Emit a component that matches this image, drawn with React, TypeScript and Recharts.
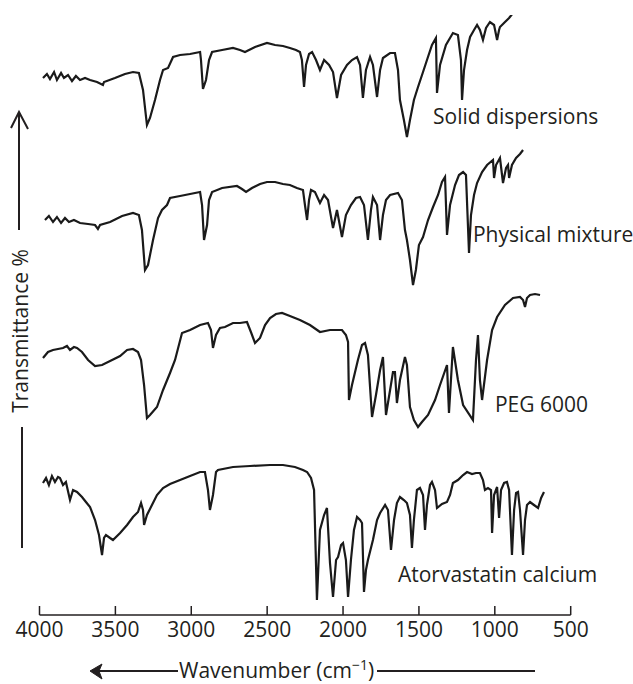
import React from "react";
import { LineChart, Line, XAxis, YAxis, ReferenceDot } from "recharts";

// wavenumber (cm-1) and transmittance (offset, arbitrary units)
const solidWn = [3977, 3951, 3931, 3904, 3885, 3858, 3839, 3812, 3786, 3760, 3733, 3700, 3667, 3621, 3582, 3575, 3503, 3437, 3384, 3345, 3318, 3292, 3272, 3239, 3206, 3186, 3153, 3120, 3074, 3008, 2942, 2936, 2923, 2903, 2883, 2863, 2797, 2725, 2679, 2646, 2580, 2501, 2448, 2396, 2350, 2310, 2284, 2271, 2257, 2244, 2224, 2204, 2178, 2152, 2125, 2092, 2066, 2040, 2013, 1974, 1941, 1908, 1888, 1869, 1849, 1822, 1803, 1776, 1756, 1737, 1690, 1658, 1638, 1625, 1599, 1579, 1559, 1533, 1506, 1473, 1447, 1414, 1388, 1381, 1361, 1322, 1276, 1243, 1223, 1216, 1203, 1183, 1163, 1137, 1117, 1098, 1078, 1058, 1032, 1005, 985, 972, 966, 933, 906, 880];
const solidT = [537, 541, 536, 543, 535, 542, 537, 540, 534, 539, 535, 537, 535, 533, 530, 533, 537, 541, 543, 542, 525, 490, 497, 515, 535, 545, 547, 558, 560, 561, 563, 555, 526, 535, 555, 563, 565, 567, 565, 563, 568, 572, 570, 569, 567, 565, 563, 555, 528, 550, 561, 563, 555, 545, 555, 550, 543, 517, 540, 550, 555, 558, 550, 517, 545, 558, 550, 518, 545, 557, 562, 562, 545, 515, 495, 478, 495, 515, 528, 543, 555, 570, 577, 522, 550, 570, 582, 580, 555, 515, 545, 565, 578, 585, 590, 585, 575, 587, 593, 590, 575, 585, 588, 593, 597, 602];

const mixtureWn = [3964, 3938, 3911, 3885, 3858, 3832, 3806, 3773, 3733, 3680, 3634, 3615, 3601, 3535, 3456, 3384, 3345, 3325, 3305, 3285, 3252, 3219, 3193, 3160, 3140, 3074, 3008, 2942, 2929, 2916, 2896, 2883, 2863, 2797, 2699, 2666, 2639, 2600, 2547, 2501, 2448, 2396, 2350, 2304, 2264, 2251, 2237, 2224, 2211, 2185, 2152, 2125, 2099, 2066, 2040, 2007, 1981, 1948, 1915, 1888, 1862, 1836, 1816, 1803, 1776, 1756, 1737, 1717, 1690, 1638, 1612, 1592, 1579, 1559, 1539, 1520, 1500, 1473, 1440, 1407, 1374, 1348, 1328, 1315, 1295, 1262, 1236, 1209, 1190, 1170, 1157, 1137, 1117, 1084, 1051, 1012, 1005, 992, 966, 946, 926, 913, 906, 887, 860, 834, 814];
const mixtureT = [395, 399, 393, 398, 392, 397, 393, 395, 392, 391, 390, 386, 390, 393, 399, 402, 400, 385, 345, 350, 375, 397, 405, 410, 417, 419, 421, 423, 410, 375, 390, 415, 423, 427, 429, 426, 423, 427, 431, 433, 433, 431, 430, 427, 425, 410, 395, 415, 425, 423, 412, 420, 415, 387, 405, 378, 400, 410, 417, 418, 410, 375, 405, 418, 410, 375, 400, 415, 420, 422, 415, 385, 375, 355, 330, 345, 370, 378, 395, 408, 420, 433, 438, 380, 410, 430, 440, 443, 440, 362, 400, 420, 432, 443, 450, 455, 437, 450, 457, 432, 447, 450, 437, 450, 457, 461, 465];

const pegWn = [3977, 3944, 3911, 3878, 3845, 3819, 3799, 3773, 3753, 3720, 3680, 3634, 3588, 3535, 3469, 3423, 3384, 3351, 3331, 3311, 3292, 3272, 3226, 3186, 3140, 3107, 3061, 3008, 2942, 2890, 2870, 2857, 2837, 2811, 2778, 2725, 2679, 2633, 2607, 2580, 2547, 2514, 2481, 2442, 2402, 2350, 2284, 2218, 2152, 2086, 2007, 1981, 1967, 1961, 1941, 1902, 1875, 1855, 1836, 1809, 1783, 1756, 1737, 1717, 1690, 1671, 1658, 1645, 1625, 1592, 1579, 1559, 1533, 1506, 1480, 1440, 1394, 1361, 1315, 1302, 1276, 1243, 1209, 1144, 1124, 1111, 1098, 1084, 1051, 1018, 985, 933, 880, 834, 814, 801, 788, 768, 735, 702];
const pegT = [257, 263, 265, 266, 267, 269, 265, 268, 267, 263, 255, 249, 250, 254, 259, 265, 266, 263, 255, 230, 197, 200, 208, 225, 242, 255, 282, 285, 290, 292, 285, 267, 280, 287, 288, 292, 292, 293, 283, 272, 277, 290, 297, 301, 302, 299, 295, 290, 283, 285, 285, 280, 273, 215, 230, 255, 270, 272, 260, 198, 220, 245, 258, 200, 225, 243, 243, 212, 235, 258, 250, 208, 195, 188, 193, 200, 215, 230, 250, 202, 268, 235, 210, 195, 255, 280, 235, 215, 255, 285, 298, 310, 317, 318, 315, 308, 317, 320, 321, 320];

const atorvaWn = [3977, 3957, 3938, 3918, 3898, 3878, 3865, 3845, 3826, 3799, 3779, 3753, 3720, 3694, 3667, 3634, 3608, 3588, 3575, 3562, 3535, 3516, 3469, 3423, 3384, 3351, 3331, 3318, 3311, 3292, 3259, 3226, 3186, 3140, 3074, 3008, 2942, 2910, 2890, 2877, 2857, 2837, 2824, 2725, 2613, 2481, 2396, 2317, 2264, 2237, 2211, 2191, 2172, 2152, 2125, 2106, 2086, 2066, 2046, 2033, 2013, 2000, 1981, 1967, 1948, 1928, 1908, 1888, 1875, 1862, 1849, 1836, 1803, 1776, 1756, 1723, 1704, 1684, 1664, 1645, 1625, 1599, 1579, 1559, 1546, 1533, 1513, 1493, 1473, 1460, 1447, 1427, 1414, 1394, 1381, 1348, 1315, 1295, 1276, 1243, 1209, 1183, 1150, 1124, 1098, 1078, 1065, 1045, 1025, 1018, 1005, 985, 972, 959, 939, 920, 906, 887, 873, 860, 847, 834, 814, 801, 788, 768, 742, 715, 695, 676];
const atorvaT = [132, 137, 130, 139, 133, 138, 137, 130, 133, 115, 125, 123, 118, 113, 108, 95, 80, 60, 77, 80, 77, 75, 82, 90, 98, 103, 112, 105, 90, 100, 110, 120, 127, 131, 135, 139, 143, 143, 125, 105, 120, 143, 145, 148, 149, 150, 150, 148, 145, 143, 137, 125, 15, 85, 100, 107, 52, 18, 55, 58, 70, 72, 55, 18, 55, 85, 98, 95, 92, 23, 45, 55, 75, 95, 102, 110, 105, 65, 95, 112, 118, 115, 112, 100, 67, 95, 125, 127, 120, 85, 110, 130, 133, 125, 107, 111, 113, 120, 132, 135, 140, 143, 141, 142, 142, 135, 125, 127, 125, 82, 120, 128, 97, 125, 132, 133, 125, 60, 105, 122, 123, 105, 60, 95, 110, 113, 110, 107, 117, 123];

const xTicks = [4000, 3500, 3000, 2500, 2000, 1500, 1000, 500];

const seriesNames = ["Solid dispersions", "Physical mixture", "PEG 6000", "Atorvastatin calcium"];
const labelWn = [1407, 1144, 999, 1638];
const labelT = [491, 373, 203, 33];

const zip = (wn: number[], t: number[]) => wn.map((w, i) => ({ wn: w, t: t[i] }));
const series = [zip(solidWn, solidT), zip(mixtureWn, mixtureT), zip(pegWn, pegT), zip(atorvaWn, atorvaT)];

const INK = "#231f20";
const FONT = "'Open Sans', 'Noto Sans', sans-serif";
const FS = 21;

function Tick({ x, y, payload }: any) {
  return (
    <g>
      <line x1={x} x2={x} y1={y - 9} y2={y} stroke={INK} strokeWidth={1.5} />
      <text x={x} y={y + 22} textAnchor="middle" fontSize={FS} fontFamily={FONT} fill={INK}>
        {payload.value}
      </text>
    </g>
  );
}

function XTitle({ viewBox }: any) {
  const top = viewBox.y;
  const ly = top + 56;
  return (
    <g>
      <line x1={95} x2={178} y1={ly} y2={ly} stroke={INK} strokeWidth={2} />
      <path d={`M90,${ly} L102,${ly - 7} L99,${ly} L102,${ly + 8} Z`} fill={INK} stroke={INK} strokeWidth={1} />
      <text x={179} y={top + 63} fontSize={FS} fontFamily={FONT} fill={INK}>
        <tspan>Wavenumber (cm</tspan>
        <tspan dy={-8} fontSize={14}>−1</tspan>
        <tspan dy={8}>)</tspan>
      </text>
      <line x1={377} x2={535} y1={ly} y2={ly} stroke={INK} strokeWidth={2} />
    </g>
  );
}

// y-axis title with the up arrow, drawn over the chart
function YTitle() {
  const cx = 20;
  const cy = 331;
  return (
    <svg width={633} height={684} style={{ position: "absolute", left: 0, top: 0, pointerEvents: "none" }}>
      <line x1={19} x2={19} y1={113} y2={230} stroke={INK} strokeWidth={2} />
      <path d={`M11,128 L19,112 L28,129`} fill="none" stroke={INK} strokeWidth={2} />
      <text x={cx} y={cy} transform={`rotate(-90 ${cx} ${cy})`} textAnchor="middle" dominantBaseline="central" fontSize={FS} fontFamily={FONT} fill={INK}>
        Transmittance %
      </text>
      <line x1={22} x2={22} y1={427} y2={548} stroke={INK} strokeWidth={2} />
    </svg>
  );
}

function SeriesName({ viewBox, value }: any) {
  return (
    <text x={viewBox.x} y={viewBox.y} fontSize={FS} fontFamily={FONT} fill={INK}>
      {value}
    </text>
  );
}

export default function App() {
  return (
    <div style={{ position: "absolute", left: 0, top: 0, width: 633, height: 684, background: "#fff" }}>
      <LineChart width={633} height={684} data={series[0]} margin={{ top: 15, right: 62.3, left: 39.5, bottom: 9 }}>
        <XAxis
          dataKey="wn"
          type="number"
          domain={[500, 4000]}
          reversed
          ticks={xTicks}
          interval={0}
          height={60}
          tickSize={0}
          tickMargin={0}
          tickLine={false}
          tick={<Tick />}
          axisLine={{ stroke: INK, strokeWidth: 1.5 }}
          label={{ content: <XTitle /> }}
          allowDataOverflow
        />
        <YAxis dataKey="t" type="number" domain={[0, 600]} hide allowDataOverflow />
        {series.map((d, i) => (
          <Line
            key={seriesNames[i]}
            data={d}
            dataKey="t"
            type="linear"
            stroke="#1a1a1a"
            strokeWidth={2.2}
            dot={false}
            isAnimationActive={false}
          />
        ))}
        {seriesNames.map((name, i) => (
          <ReferenceDot
            key={name}
            x={labelWn[i]}
            y={labelT[i]}
            r={0}
            fill="none"
            stroke="none"
            label={{ value: name, content: <SeriesName /> }}
          />
        ))}
      </LineChart>
      <YTitle />
    </div>
  );
}
